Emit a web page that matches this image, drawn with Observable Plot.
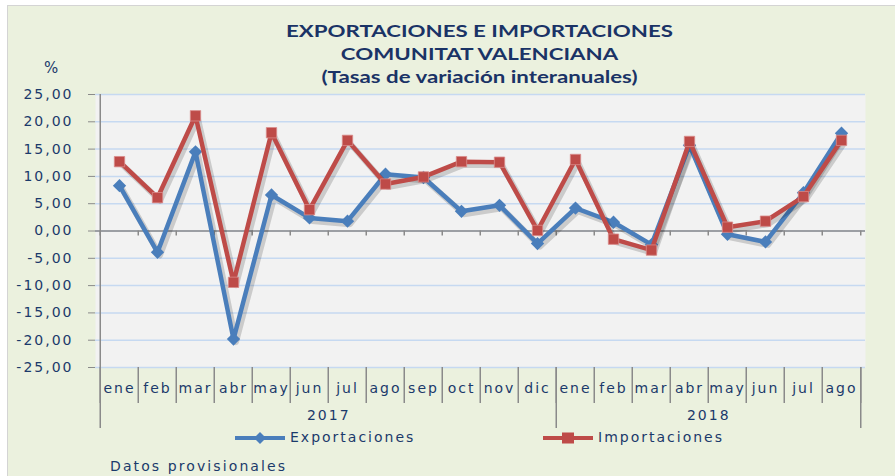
<!DOCTYPE html>
<html><head><meta charset="utf-8">
<script src="https://cdn.jsdelivr.net/npm/d3@7"></script>
<script src="https://cdn.jsdelivr.net/npm/@observablehq/plot@0.6"></script>
<style>
body{margin:0;background:#fff;}
#wrap{position:relative;width:895px;height:476px;overflow:hidden;}
#panel{position:absolute;left:7px;top:5px;width:900px;height:480px;background:#ebf1de;border:1px solid #d4d4d4;}
#chart{position:absolute;left:0;top:0;}
.t{position:absolute;color:#1b3a6b;font-family:"DejaVu Sans";white-space:nowrap;}
#title{position:absolute;left:283px;width:300px;top:19px;text-align:center;font-family:Lato;font-weight:bold;color:#1a3366;font-size:17px;line-height:23px;transform:scaleX(1.31);transform-origin:0 0;}
</style></head>
<body><div id="wrap"><div id="panel"></div><div id="chart"></div>
<div id="title">EXPORTACIONES E IMPORTACIONES<br>COMUNITAT VALENCIANA<br>(Tasas de variación interanuales)</div>
<div class="t" style="left:44px;top:59px;font-size:15px;">%</div>
<div class="t" id="legend" style="left:235px;top:429px;font-size:14px;letter-spacing:2px;"></div>
<div class="t" style="left:110px;top:458px;font-size:14px;letter-spacing:2.1px;">Datos provisionales</div>
</div>
<script>
const months = ["ene","feb","mar","abr","may","jun","jul","ago","sep","oct","nov","dic","ene","feb","mar","abr","may","jun","jul","ago"];
const years = [2017,2017,2017,2017,2017,2017,2017,2017,2017,2017,2017,2017,2018,2018,2018,2018,2018,2018,2018,2018];
const exportaciones = [8.3,-3.9,14.5,-19.8,6.6,2.4,1.8,10.4,9.8,3.6,4.7,-2.3,4.2,1.6,-2.5,15.7,-0.6,-2.0,7.0,17.9];
const importaciones = [12.7,6.1,21.1,-9.4,18.0,3.9,16.6,8.6,9.9,12.7,12.6,0.1,13.1,-1.5,-3.5,16.4,0.7,1.8,6.3,16.6];
const yTicks = [-25,-20,-15,-10,-5,0,5,10,15,20,25];
const seriesNames = ["Exportaciones","Importaciones"];
const colors = ["#4a7ebb","#be4b48"];

const keys = months.map((m,i)=>years[i]+"-"+m);
const rows = keys.map((k,i)=>({key:k, exp:exportaciones[i], imp:importaciones[i]}));
const W=895,H=476,mL=95,mR=30,mT=94,mB=109;
const bw=(W-mL-mR)/keys.length;
const navy="#1b3a6b", axisC="#8a8a8a";
const fmt=d=>d.toFixed(2).replace(".",",");
const yearTick={};
yearTick[keys[5]]="2017"; yearTick[keys[15]]="2018";
const sh={stroke:"#000",strokeOpacity:0.16,dx:2.5,dy:3};

const plot = Plot.plot({
  width:W,height:H,marginLeft:mL,marginRight:mR,marginTop:mT,marginBottom:mB,
  style:{background:"transparent",fontFamily:"DejaVu Sans",fontSize:"14px",letterSpacing:"2px",color:navy},
  x:{type:"band",domain:keys,padding:0},
  y:{domain:[-25,25]},
  marks:[
    Plot.frame({fill:"#f2f2f2",stroke:null}),
    Plot.gridY({ticks:yTicks,stroke:"#c6d9f1",strokeOpacity:1,strokeWidth:1.5}),
    Plot.axisY({ticks:yTicks,tickFormat:fmt,tickSize:7,tickPadding:15,stroke:axisC,fill:navy,label:null}),
    Plot.ruleY([0],{stroke:axisC,strokeWidth:1.5}),
    Plot.ruleX(keys,{y1:0,y2:-0.9,dx:-bw/2,stroke:axisC,strokeWidth:1.5}),
    Plot.ruleX([keys[keys.length-1]],{y1:0,y2:-0.9,dx:bw/2,stroke:axisC,strokeWidth:1.5}),
    Plot.ruleX([keys[0]],{y1:-25,y2:25,dx:-bw/2,stroke:axisC,strokeWidth:1.5}),
    Plot.axisX({ticks:keys,tickSize:36,dx:-bw/2,text:null,stroke:axisC,strokeWidth:1.5,label:null}),
    Plot.axisX({ticks:[keys[keys.length-1]],tickSize:36,dx:bw/2,text:null,stroke:axisC,strokeWidth:1.5,label:null}),
    Plot.axisX({ticks:[keys[0],keys[12]],tickSize:61,dx:-bw/2,text:null,stroke:axisC,strokeWidth:1.5,label:null}),
    Plot.axisX({ticks:[keys[keys.length-1]],tickSize:61,dx:bw/2,text:null,stroke:axisC,strokeWidth:1.5,label:null}),
    Plot.axisX({ticks:keys,tickSize:0,tickPadding:16,tickFormat:k=>k.split("-")[1],fill:navy,label:null}),
    Plot.axisX({ticks:[keys[5],keys[15]],tickSize:0,tickPadding:43,dx:bw/2,tickFormat:k=>yearTick[k],fill:navy,label:null}),
    Plot.lineY(rows,{x:"key",y:"exp",...sh,strokeWidth:6}),
    Plot.lineY(rows,{x:"key",y:"exp",stroke:colors[0],strokeWidth:4.5}),
    Plot.dot(rows,{x:"key",y:"exp",symbol:"diamond2",r:6,fill:colors[0],stroke:null}),
    Plot.lineY(rows,{x:"key",y:"imp",...sh,strokeWidth:6}),
    Plot.lineY(rows,{x:"key",y:"imp",stroke:colors[1],strokeWidth:4.5}),
    Plot.dot(rows,{x:"key",y:"imp",symbol:"square2",r:6.6,fill:colors[1],stroke:"#d98c8a",strokeWidth:0.8})
  ]
});
document.getElementById("chart").appendChild(plot);

// legend
const lg=document.getElementById("legend");
const sw=(c,sym)=>`<svg width="52" height="14" style="vertical-align:middle;margin-right:3px"><line x1="0" x2="50" y1="7" y2="7" stroke="${c}" stroke-width="4"/>${sym}</svg>`;
lg.innerHTML=`<span>${sw(colors[0],`<path d="M25,1 L31,7 L25,13 L19,7Z" fill="${colors[0]}"/>`)}${seriesNames[0]}</span>`+
 `<span style="position:absolute;left:308px;top:0">${sw(colors[1],`<rect x="19" y="1.5" width="12" height="11" fill="${colors[1]}"/>`)}${seriesNames[1]}</span>`;
</script></body></html>
